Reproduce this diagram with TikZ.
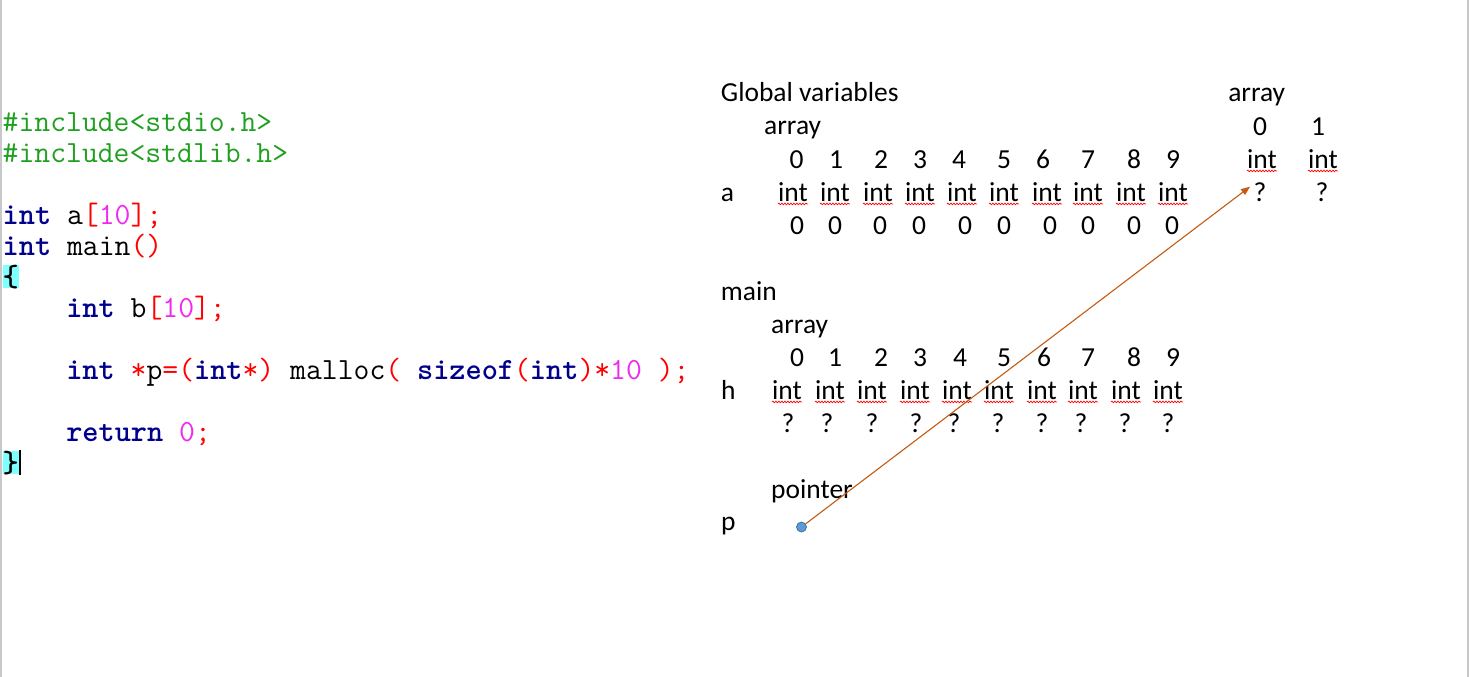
\documentclass[tikz,border=0pt]{standalone}
\usepackage{fontspec}
\usetikzlibrary{arrows.meta,decorations.pathmorphing}
\newfontfamily\calfont{Carlito}
\definecolor{incc}{RGB}{32,160,32}
\definecolor{kwc}{RGB}{0,0,140}
\definecolor{punc}{RGB}{255,0,0}
\definecolor{numc}{RGB}{240,40,240}
\definecolor{hlc}{RGB}{128,255,255}
\definecolor{arrowc}{RGB}{197,90,17}
\definecolor{dotc}{RGB}{91,155,213}
\definecolor{dotedge}{RGB}{65,113,156}
\definecolor{framec}{RGB}{200,200,200}
\newcommand\ckw[1]{{\bfseries\color{kwc}#1}}
\newcommand\cpun[1]{{\color{punc}#1}}
\newcommand\cnum[1]{{\color{numc}#1}}
\newcommand\cinc[1]{{\color{incc}#1}}
\begin{document}
\begin{tikzpicture}[x=1pt,y=-1pt,
  lab/.style={anchor=base west,inner sep=0pt,font=\calfont\fontsize{27.5}{33}\selectfont},
  cell/.style={anchor=base,inner sep=0pt,font=\calfont\fontsize{27.5}{33}\selectfont},
  code/.style={anchor=base west,inner sep=0pt,font=\ttfamily\fontsize{30.8}{31}\selectfont},
  squig/.style={draw=red,line width=0.7pt,decorate,decoration={snake,segment length=3pt,amplitude=0.8pt}},
  ptr/.style={draw=arrowc,line width=1.1pt,-{Triangle[length=9pt,width=7pt]}},
  frameline/.style={draw=framec,line width=1.5pt}]
\useasboundingbox (0,0) rectangle (1470,677);
\draw[frameline] (0.75,0) -- (0.75,677);
\draw[frameline] (1468,0) -- (1468,677);
% code
\node[code] (l1) at (2.5,131) {\cinc{\#include<stdio.h>}};
\node[code] (l2) at (2.5,162) {\cinc{\#include<stdlib.h>}};
\node[code] (l3) at (2.5,224) {\ckw{int}\ a\cpun{[}\cnum{10}\cpun{];}};
\node[code] (l4) at (2.5,255) {\ckw{int}\ main\cpun{()}};
\node[code,fill=hlc] (ob) at (2.5,286) {\bfseries\{};
\node[code] (l5) at (66.1,317) {\ckw{int}\ b\cpun{[}\cnum{10}\cpun{];}};
\node[code] (l6) at (66.1,379) {\ckw{int}\ \cpun{*}p\cpun{=(}\ckw{int}\cpun{*)}\ malloc\cpun{(}\ \ckw{sizeof}\cpun{(}\ckw{int}\cpun{)*}\cnum{10}\ \cpun{);}};
\node[code] (l7) at (66.1,441) {\ckw{return}\ \cnum{0}\cpun{;}};
\node[code,fill=hlc] (cb) at (2.5,472) {\bfseries\}};
\draw[line width=1.4pt] ([xshift=1pt]cb.north east) -- ([xshift=1pt]cb.south east);
% global
\node[lab] (glob) at (720.7,102) {Global variables};
\node[lab] (garr) at (764,134.5) {array};
\node[lab] (ga) at (720.7,201) {a};
\foreach \x [count=\i from 0] in {796.7,836,881,920,959,1004,1043,1088,1134,1173}
  \node[cell] (gd\i) at (\x,168) {\i};
\foreach \x [count=\i from 0] in {793,835,878,920,962,1004,1047,1088,1131,1173}
  \node[cell] (gi\i) at (\x,201) {int};
\foreach \x [count=\i from 0] in {797,835,880,919,965,1004,1050,1088,1134,1172}
  \node[cell] (gv\i) at (\x,234) {0};
% main
\node[lab] (mainl) at (720.7,300) {main};
\node[lab] (marr) at (771,333) {array};
\node[lab] (mh) at (721,399) {h};
\foreach \x [count=\i from 0] in {797,835,881,920,960,1004,1044,1088,1134,1173}
  \node[cell] (md\i) at (\x,366) {\i};
\foreach \x [count=\i from 0] in {787,830,872,915,957,999,1042,1083,1126,1168}
  \node[cell] (mi\i) at (\x,399) {int};
\foreach \x [count=\i from 0] in {788,827,872,916,954,998,1042,1081,1125,1168}
  \node[cell] (mq\i) at (\x,432) {?};
\node[lab] (mptr) at (771,498) {pointer};
\node[lab] (mp) at (721,530) {p};
% heap array
\node[cell] (rarr) at (1256.7,102) {array};
\node[cell] (rd0) at (1260,135) {0};
\node[cell] (rd1) at (1318,135) {1};
\node[cell] (ri0) at (1262,168) {int};
\node[cell] (ri1) at (1323,168) {int};
\node[cell] (rq0) at (1260,201) {?};
\node[cell] (rq1) at (1322,201) {?};
% squiggles
\foreach \n in {gi0,gi1,gi2,gi3,gi4,gi5,gi6,gi7,gi8,gi9,mi0,mi1,mi2,mi3,mi4,mi5,mi6,mi7,mi8,mi9,ri0,ri1}
  \draw[squig] ([yshift=-2.5pt]\n.south west) -- ([yshift=-2.5pt]\n.south east);
% pointer
\node[circle,fill=dotc,draw=dotedge,line width=0.8pt,minimum size=10pt,inner sep=0pt] (pdot) at (801.5,527) {};
\draw[ptr] (pdot) -- ([xshift=-10pt,yshift=5pt]rq0.center);
\end{tikzpicture}
\end{document}
